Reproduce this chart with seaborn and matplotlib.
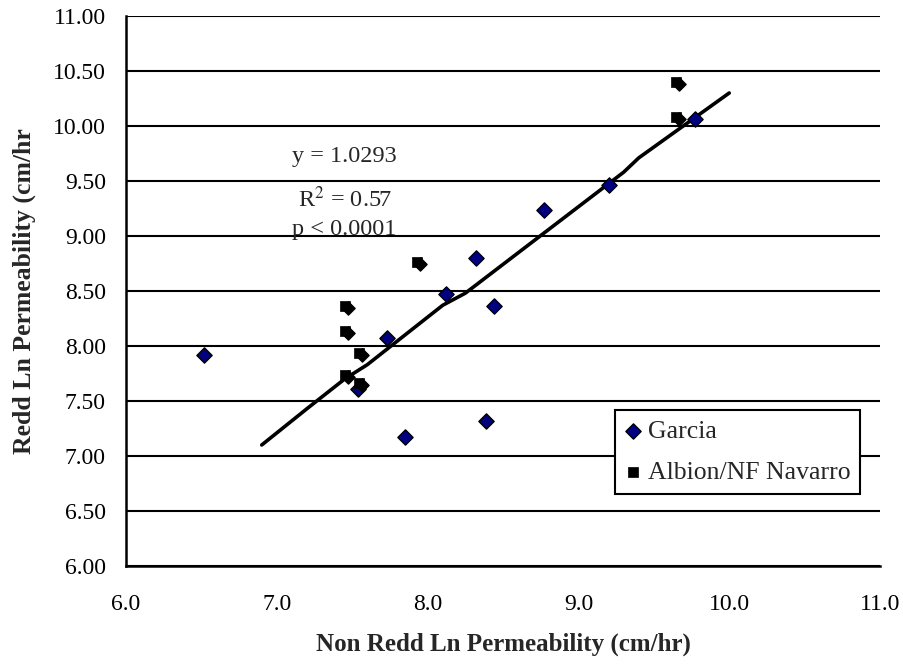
import numpy as np
import pandas as pd
import seaborn as sns
import matplotlib.pyplot as plt
from matplotlib.transforms import ScaledTranslation

# Garcia sites (non redd vs redd ln permeability)
garcia_x = [6.52, 7.54, 7.73, 7.85, 8.12, 8.32, 8.39, 8.44, 8.77, 9.20, 9.77]
garcia_y = [7.92, 7.61, 8.07, 7.17, 8.47, 8.80, 7.32, 8.36, 9.24, 9.46, 10.06]

# Albion / NF Navarro sites
albion_x = [7.45, 7.45, 7.45, 7.545, 7.545, 7.93, 9.65, 9.65]
albion_y = [8.36, 8.14, 7.74, 7.94, 7.665, 8.76, 10.08, 10.40]

# trend line as drawn
line_x = [6.90, 7.20, 7.45, 7.60, 8.10, 8.25, 9.30, 9.40, 10.00]
line_y = [7.10, 7.43, 7.70, 7.83, 8.37, 8.48, 9.58, 9.71, 10.30]

stats_lines = ["y = 1.0293", "R$^2$ = 0.57", "p < 0.0001"]

x_ticks = [6.0, 7.0, 8.0, 9.0, 10.0, 11.0]
y_ticks = [6.0, 6.5, 7.0, 7.5, 8.0, 8.5, 9.0, 9.5, 10.0, 10.5, 11.0]

garcia_df = pd.DataFrame({"x": garcia_x, "y": garcia_y})
albion_df = pd.DataFrame({"x": albion_x, "y": albion_y})
line_df = pd.DataFrame({"x": line_x, "y": line_y})

sns.set_style("white")
plt.rcParams["font.family"] = ["Liberation Serif", "DejaVu Serif"]
plt.rcParams["mathtext.fontset"] = "stix"

fig, ax = plt.subplots(figsize=(9.04, 6.66), dpi=100)
fig.subplots_adjust(left=0.1394, right=0.9735, top=0.976, bottom=0.1502)

# horizontal gridlines
for yv in y_ticks:
    ax.axhline(yv, color="black", lw=1.5, zorder=0)

sns.lineplot(data=line_df, x="x", y="y", color="black", lw=2.6, ax=ax,
             zorder=2, sort=False)

sns.scatterplot(data=garcia_df, x="x", y="y", marker="D", s=60,
                color="#000080", edgecolor="black", linewidth=1.0,
                label="Garcia", ax=ax, zorder=3)

# Albion points show a black diamond peeking out behind each square
offset = ScaledTranslation(3 / 100, -2 / 100, fig.dpi_scale_trans)
ax.scatter(albion_x, albion_y, marker="D", s=45, color="black",
           transform=ax.transData + offset, zorder=4)
sns.scatterplot(data=albion_df, x="x", y="y", marker="s", s=60,
                color="black", edgecolor="black", linewidth=0.5,
                label="Albion/NF Navarro", ax=ax, zorder=5)

for txt, yy in zip(stats_lines, [9.72, 9.33, 9.06]):
    ax.text(7.45, yy, txt, fontsize=17.5, ha="center", va="center")

ax.set_xlim(6.0, 11.0)
ax.set_ylim(6.0, 11.0)
ax.set_xticks(x_ticks)
ax.set_yticks(y_ticks)
ax.set_xticklabels([f"{v:.1f}" for v in x_ticks])
ax.set_yticklabels([f"{v:.2f}" for v in y_ticks])
ax.tick_params(axis="both", direction="inout", length=9, width=1.5,
               labelsize=17, color="black", labelcolor="black")
ax.tick_params(axis="x", pad=16)
ax.tick_params(axis="y", pad=10)

for side in ["top", "right"]:
    ax.spines[side].set_visible(False)
for side in ["left", "bottom"]:
    ax.spines[side].set_color("black")
    ax.spines[side].set_linewidth(1.8)

ax.set_xlabel("Non Redd Ln Permeability (cm/hr)", fontsize=18,
              fontweight="bold", labelpad=12)
ax.set_ylabel("Redd Ln Permeability (cm/hr", fontsize=18.5,
              fontweight="bold", labelpad=12)

leg = ax.legend(loc="upper left", bbox_to_anchor=(0.6485, 0.2836),
                borderaxespad=0, frameon=True, fancybox=False,
                fontsize=18.5, handletextpad=0.27, handlelength=0.62,
                borderpad=0.38, labelspacing=0.72)
leg.get_frame().set_edgecolor("black")
leg.get_frame().set_linewidth(1.5)
leg.get_frame().set_alpha(1)

fig.savefig("out.png", dpi=100)
